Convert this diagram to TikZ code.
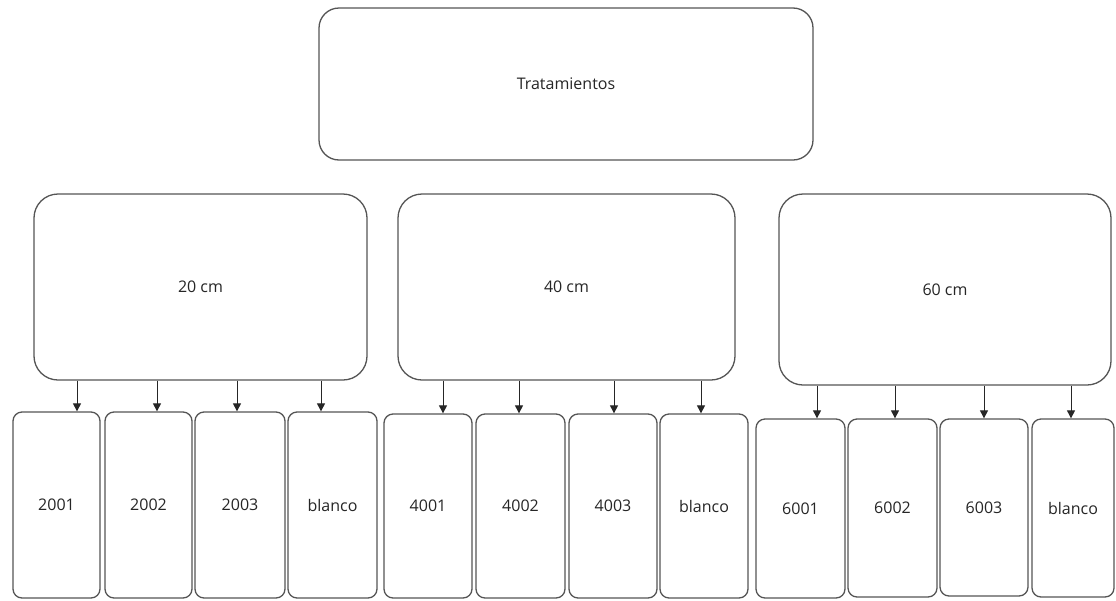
\documentclass[tikz,border=0pt]{standalone}
\usepackage{fontspec}
\setmainfont{Open Sans}
\usetikzlibrary{arrows.meta}
\definecolor{edge}{HTML}{555555}
\definecolor{txt}{HTML}{262626}
\begin{document}
\begin{tikzpicture}[x=1pt,y=-1pt,
  box/.style={draw=edge, line width=1.3pt, inner sep=0pt, text=txt, font=\fontsize{16}{18}\selectfont},
  topbox/.style={box, rounded corners=20pt},
  midbox/.style={box, rounded corners=24pt},
  leaf/.style={box, rounded corners=9pt},
  arr/.style={draw=black!85, line width=1pt, -{Triangle[width=8pt,length=8pt]}}]
\useasboundingbox (0,0) rectangle (1116,600);
\fill[white] (0,0) rectangle (1116,600);
% top
\node[topbox, minimum width=494pt, minimum height=152pt] (top) at (566,84) {Tratamientos};
% middle
\node[midbox, minimum width=333pt, minimum height=186pt] (m1) at (200.5,287) {20 cm};
\node[midbox, minimum width=337pt, minimum height=186pt] (m2) at (566.5,287) {40 cm};
\node[midbox, minimum width=332pt, minimum height=191pt] (m3) at (945,289.5) {60 cm};
% leaves group 1
\node[leaf, minimum width=87pt, minimum height=186pt] (b1) at (56.5,505) {2001};
\node[leaf, minimum width=87pt, minimum height=186pt] (b2) at (148.5,505) {2002};
\node[leaf, minimum width=90pt, minimum height=186pt] (b3) at (240,505) {2003};
\node[leaf, minimum width=89pt, minimum height=186pt] (b4) at (332.5,505) {blanco};
% leaves group 2
\node[leaf, minimum width=88pt, minimum height=184pt] (b5) at (428,506) {4001};
\node[leaf, minimum width=89pt, minimum height=184pt] (b6) at (520.5,506) {4002};
\node[leaf, minimum width=88pt, minimum height=184pt] (b7) at (613,506) {4003};
\node[leaf, minimum width=88pt, minimum height=184pt] (b8) at (704,506) {blanco};
% leaves group 3
\node[leaf, minimum width=89pt, minimum height=179pt] (b9) at (800.5,508.5) {6001};
\node[leaf, minimum width=89pt, minimum height=178pt] (b10) at (892.5,508) {6002};
\node[leaf, minimum width=88pt, minimum height=177pt] (b11) at (984,507.5) {6003};
\node[leaf, minimum width=82pt, minimum height=178pt] (b12) at (1073,508) {blanco};
% arrow targets
\coordinate (t1) at ([xshift=20.5pt]b1.north);
\coordinate (t2) at ([xshift=8.5pt]b2.north);
\coordinate (t3) at ([xshift=-3pt]b3.north);
\coordinate (t4) at ([xshift=-11.5pt]b4.north);
\coordinate (t5) at ([xshift=15pt]b5.north);
\coordinate (t6) at ([xshift=-1.5pt]b6.north);
\coordinate (t7) at ([xshift=1pt]b7.north);
\coordinate (t8) at ([xshift=-3pt]b8.north);
\coordinate (t9) at ([xshift=16.5pt]b9.north);
\coordinate (t10) at ([xshift=2.5pt]b10.north);
\coordinate (t11) at ([xshift=0pt]b11.north);
\coordinate (t12) at ([xshift=-2pt]b12.north);
\foreach \i in {1,2,3,4} \draw[arr] (t\i |- m1.south) -- (t\i);
\foreach \i in {5,6,7,8} \draw[arr] (t\i |- m2.south) -- (t\i);
\foreach \i in {9,10,11,12} \draw[arr] (t\i |- m3.south) -- (t\i);
\end{tikzpicture}
\end{document}
